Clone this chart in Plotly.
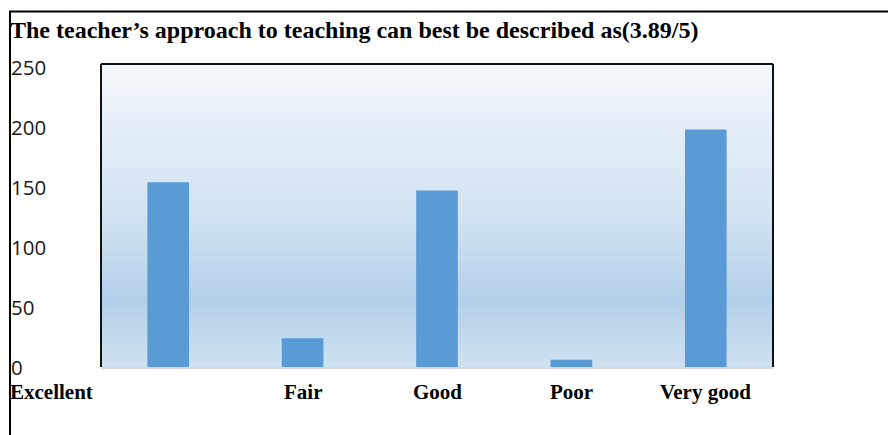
import plotly.graph_objects as go

# ---- data ----
categories = ["Excellent", "Fair", "Good", "Poor", "Very good"]
counts = [154, 24, 147, 6, 198]
y_ticks = [0, 50, 100, 150, 200, 250]
title_text = "The teacher\u2019s approach to teaching can best be described as(3.89/5)"

# ---- layout geometry (pixels) ----
W_FIG, H_FIG = 888, 435
L, R, T, B = 101, 773, 64, 367
PW, PH = R - L, B - T

def px(x):
    return (x - L) / PW

def py(y):
    return (B - y) / PH

fig = go.Figure()
fig.add_trace(go.Bar(
    x=categories, y=counts, width=0.31,
    marker=dict(color="#5b9bd5", line=dict(width=0)),
    hoverinfo="x+y",
))

# gradient background of plot area (stripes)
stops = [(0.0, (246, 249, 252)), (0.2, (229, 238, 248)), (0.5, (210, 227, 242)),
         (0.78, (178, 208, 234)), (1.0, (207, 225, 241))]  # from top (0) to bottom (1)

def col_at(t):
    for (t0, c0), (t1, c1) in zip(stops[:-1], stops[1:]):
        if t0 <= t <= t1:
            f = (t - t0) / (t1 - t0) if t1 > t0 else 0
            return "rgb(%d,%d,%d)" % tuple(round(a + (b - a) * f) for a, b in zip(c0, c1))
    return "rgb(%d,%d,%d)" % stops[-1][1]

shapes = []
N = 80
for i in range(N):
    t = (i + 0.5) / N
    y1 = 1 - i / N
    y0 = 1 - (i + 1) / N - 0.002
    shapes.append(dict(type="rect", xref="paper", yref="paper", x0=0, x1=1,
                       y0=max(y0, 0), y1=y1, fillcolor=col_at(t),
                       line=dict(width=0), layer="below"))

# plot area border (left, top, right)
bc = "#111111"
shapes += [
    dict(type="line", xref="paper", yref="paper", x0=0, x1=0, y0=0, y1=1, line=dict(color=bc, width=2)),
    dict(type="line", xref="paper", yref="paper", x0=0, x1=1, y0=1, y1=1, line=dict(color=bc, width=2)),
    dict(type="line", xref="paper", yref="paper", x0=1, x1=1, y0=0, y1=1, line=dict(color=bc, width=2)),
]
# outer frame (top and left)
shapes += [
    dict(type="line", xref="paper", yref="paper", x0=px(9), x1=px(888), y0=py(11.5), y1=py(11.5),
         line=dict(color="#000000", width=2)),
    dict(type="line", xref="paper", yref="paper", x0=px(10), x1=px(10), y0=py(11.5), y1=py(436),
         line=dict(color="#000000", width=2)),
]

annotations = []
# title
annotations.append(dict(text="<b>" + title_text + "</b>", xref="paper", yref="paper",
                        x=px(8), y=py(30), xanchor="left", yanchor="middle", showarrow=False,
                        font=dict(family="Liberation Serif", size=24, color="#000000")))
# y tick labels (left-aligned at figure edge)
for v in y_ticks:
    annotations.append(dict(text=str(v), xref="paper", yref="y", x=px(9), y=v,
                            xanchor="left", yanchor="middle", showarrow=False,
                            font=dict(family="Open Sans", size=20.5, color="#1a1a1a")))
# category labels
for i, c in enumerate(categories):
    if i == 0:
        annotations.append(dict(text="<b>" + c + "</b>", xref="paper", yref="paper", x=px(8), y=py(392),
                                xanchor="left", yanchor="middle", showarrow=False,
                                font=dict(family="Liberation Serif", size=21, color="#000000")))
    else:
        annotations.append(dict(text="<b>" + c + "</b>", xref="x", yref="paper", x=c, y=py(392),
                                xanchor="center", yanchor="middle", showarrow=False,
                                font=dict(family="Liberation Serif", size=21, color="#000000")))

fig.update_layout(
    width=W_FIG, height=H_FIG,
    margin=dict(l=L, r=W_FIG - R, t=T, b=H_FIG - B, pad=0),
    paper_bgcolor="#ffffff", plot_bgcolor="rgba(0,0,0,0)",
    showlegend=False, shapes=shapes, annotations=annotations,
    bargap=0.69,
)
fig.update_xaxes(showticklabels=False, showgrid=False, zeroline=False, ticks="",
                 showline=True, linecolor="#d9d9d9", linewidth=2)
fig.update_yaxes(range=[0, 252.5], showticklabels=False, showgrid=False, zeroline=False,
                 ticks="", showline=False, tickvals=y_ticks)

fig.write_html("out.html", config={"displayModeBar": False},
               post_script="document.body.style.margin='0';document.body.style.overflow='hidden';")
